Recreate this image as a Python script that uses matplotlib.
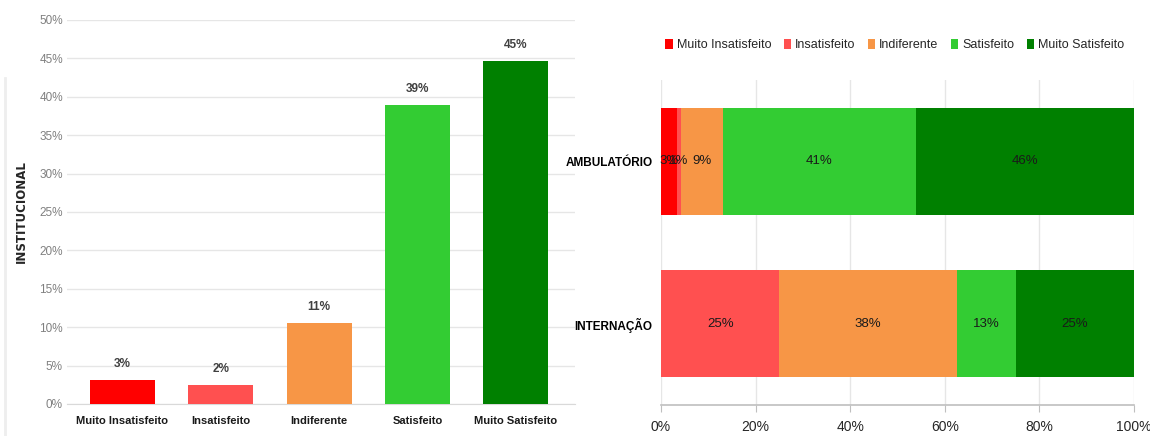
import matplotlib
matplotlib.use("Agg")
import matplotlib.pyplot as plt
from matplotlib.lines import Line2D
from matplotlib.patches import Patch
from matplotlib.ticker import PercentFormatter, MultipleLocator

plt.rcParams['font.family'] = ['Liberation Sans', 'DejaVu Sans']

categories = ["Muito Insatisfeito", "Insatisfeito", "Indiferente", "Satisfeito", "Muito Satisfeito"]
colors = ["#FF0000", "#FF5050", "#F79646", "#33CC33", "#008000"]

# Left chart: institutional
inst_values = [3.1, 2.5, 10.5, 38.9, 44.7]
inst_labels = ["3%", "2%", "11%", "39%", "45%"]

# Right chart: stacked by unit
units = ["INTERNAÇÃO", "AMBULATÓRIO"]
stack_values = {
    "Muito Insatisfeito": [0.0, 3.4],
    "Insatisfeito": [25.0, 0.8],
    "Indiferente": [37.5, 8.8],
    "Satisfeito": [12.5, 41.0],
    "Muito Satisfeito": [25.0, 46.0],
}
stack_labels = {
    "Muito Insatisfeito": ["", "3%"],
    "Insatisfeito": ["25%", "1%"],
    "Indiferente": ["38%", "9%"],
    "Satisfeito": ["13%", "41%"],
    "Muito Satisfeito": ["25%", "46%"],
}
x_ticks = [0, 20, 40, 60, 80, 100]

fig = plt.figure(figsize=(11.5, 4.36), dpi=100)
fig.patch.set_facecolor("white")

# ---------- Left ----------
ax1 = fig.add_axes([0.0583, 0.0734, 0.4417, 0.881])
xs = range(len(categories))
bars = ax1.bar(xs, inst_values, width=0.66, color=colors, zorder=3)
for b, lab in zip(bars, inst_labels):
    ax1.text(b.get_x() + b.get_width() / 2, b.get_height() + 1.3, lab,
             ha="center", va="bottom", fontsize=8.5, fontweight="bold", color="#404040")
ax1.set_ylim(0, 50)
ax1.set_xlim(-0.56, 4.6)
ax1.yaxis.set_major_locator(MultipleLocator(5))
ax1.yaxis.set_major_formatter(PercentFormatter(decimals=0))
ax1.grid(axis="y", color="#E6E6E6", linewidth=1, zorder=0)
for s in ax1.spines.values():
    s.set_visible(False)
ax1.spines["bottom"].set_visible(True)
ax1.spines["bottom"].set_color("#D9D9D9")
ax1.tick_params(axis="y", length=0, labelsize=8.5, labelcolor="#808080", pad=3)
ax1.tick_params(axis="x", length=0, pad=9)
ax1.set_xticks(list(xs))
ax1.set_xticklabels(categories, fontsize=8, fontweight="bold", color="#1a1a1a")

fig.text(0.019, 0.514, "INSTITUCIONAL", rotation=90, ha="center", va="center",
         fontsize=8.5, fontweight="bold", color="#262626", family="DejaVu Sans")
fig.add_artist(Line2D([0.004, 0.004], [0.0, 0.82], color="#EEEEEE", linewidth=2))

# ---------- Right ----------
ax2 = fig.add_axes([0.5748, 0.0711, 0.4113, 0.7454])
ypos = [0, 1]
left = [0.0, 0.0]
for cat, col in zip(categories, colors):
    vals = stack_values[cat]
    ax2.barh(ypos, vals, left=left, height=0.66, color=col, zorder=3)
    for i, (v, lab) in enumerate(zip(vals, stack_labels[cat])):
        if lab:
            ax2.text(left[i] + v / 2, ypos[i], lab, ha="center", va="center",
                     fontsize=9.5, color="#1a1a1a", zorder=4)
    left = [l + v for l, v in zip(left, vals)]

ax2.set_xlim(0, 100)
ax2.set_ylim(-0.5, 1.5)
ax2.set_xticks(x_ticks)
ax2.xaxis.set_major_formatter(PercentFormatter(decimals=0))
ax2.set_yticks(ypos)
ax2.set_yticklabels(units, fontsize=8.5, fontweight="bold", color="#000000")
ax2.grid(axis="x", color="#E6E6E6", linewidth=1, zorder=0)
for s in ax2.spines.values():
    s.set_visible(False)
ax2.spines["bottom"].set_visible(True)
ax2.spines["bottom"].set_color("#BFBFBF")
ax2.spines["bottom"].set_linewidth(1.2)
ax2.tick_params(axis="y", length=0, pad=6)
ax2.tick_params(axis="x", length=5, color="#BFBFBF", labelsize=10, labelcolor="#262626", pad=6)

handles = [Patch(facecolor=c, edgecolor="none") for c in colors]
fig.legend(handles, categories, loc="center", bbox_to_anchor=(0.778, 0.897), ncol=5,
           frameon=False, fontsize=9, handlelength=0.6, handleheight=0.9,
           handletextpad=0.3, columnspacing=1.0, labelcolor="#262626")

fig.savefig("out.png", dpi=100, facecolor="white")
